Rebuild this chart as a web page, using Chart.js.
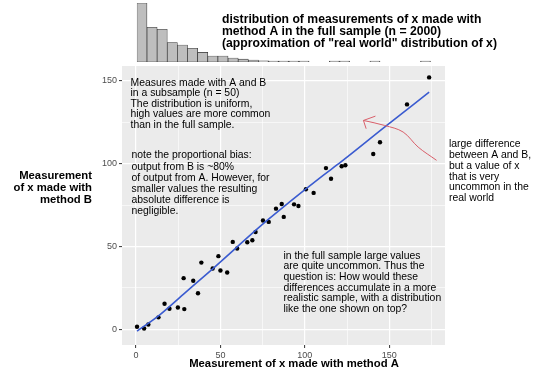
<!DOCTYPE html>
<html><head><meta charset="utf-8">
<script src="https://cdn.jsdelivr.net/npm/chart.js@4/dist/chart.umd.min.js"></script>
<style>
html,body{margin:0;padding:0;background:#fff;}
#wrap{position:relative;width:540px;height:370px;overflow:hidden;}
canvas{position:absolute;left:0;top:0;}
</style></head>
<body><div id="wrap">
<canvas id="main" width="540" height="370" style="width:540px;height:370px"></canvas>
<canvas id="hist" width="540" height="66" style="width:540px;height:66px"></canvas>
</div>
<script>
// ---- data ----
const binCenters = [3.5,9.5,15.5,21.5,27.5,33.5,39.5,45.5,51.5,57.5,63.5,69.5,75.5,81.5,87.5,93.5,99.5,105.5,111.5,117.5,123.5,129.5,135.5,141.5,147.5,153.5,159.5,165.5,171.5];
const binCounts  = [558,329,310,183,161,130,92,57,57,38,28,19,12,9,5,3,3,0,0,2,2,0,0,1,0,0,0,0,1];
const binWidth = 6;

const valuesA = [0.6,4.8,7.3,13.3,16.9,19.8,24.8,28.6,28.2,33.9,36.7,38.7,45.4,48.8,50.0,54.0,57.3,59.9,65.9,68.9,70.8,75.2,78.6,82.9,86.3,87.5,93.6,96.2,100.6,105.2,112.5,115.5,121.8,124.0,140.5,144.5,160.5,173.6];
const valuesB = [1.4,0.4,2.8,7.1,15.3,12.3,13.1,12.1,30.8,29.2,21.7,40.2,36.6,44.1,35.4,34.2,52.7,48.7,52.5,53.7,58.7,65.6,64.8,72.8,75.6,67.8,75.4,74.4,84.5,82.3,97.3,90.9,98.4,99.0,105.8,112.9,135.8,152.1];

const fitA = [0.6,13.3,28.0,45.6,77.8,109.5,121.4,147.2,173.6];
const fitB = [-1.2,8.0,21.0,36.6,65.8,91.9,101.0,122.0,143.2];

const arrowShaftA = [134.7,147.2,158.2,167.1,178.0];
const arrowShaftB = [126.1,123.1,119.1,110.0,102.0];
const arrowHeadA = [141.8,134.7,136.3];
const arrowHeadB = [128.7,126.1,121.1];

const xTicks = [0,50,100,150];
const yTicks = [0,50,100,150];
const xMinor = [25,75,125,175];
const yMinor = [25,75,125];
const xLabels = ['0','50','100','150'];
const yLabels = ['0','50','100','150'];

// ---- charts ----
const FONT = "'Liberation Sans', Arial, Helvetica, sans-serif";
Chart.defaults.font.family = FONT;
const X_MIN = -8.3, X_MAX = 183, Y_MIN = -9.6, Y_MAX = 159;

const zip = (a, b) => a.map((v, i) => ({x: v, y: b[i]}));

const panelBg = {
  id: 'panelBg',
  beforeDraw(chart) {
    const {ctx, chartArea: a} = chart;
    ctx.save();
    ctx.fillStyle = '#ebebeb';
    ctx.fillRect(a.left, a.top, a.right - a.left, a.bottom - a.top);
    ctx.restore();
  }
};

function drawLines(ctx, lines, x, y, lh, font, align) {
  ctx.font = font;
  ctx.textAlign = align;
  ctx.textBaseline = 'middle';
  ctx.fillStyle = '#000';
  lines.forEach((l, i) => ctx.fillText(l, x, y + i * lh));
}

const notes = {
  id: 'notes',
  afterDraw(chart) {
    const ctx = chart.ctx;
    ctx.save();
    const reg = "10.4px " + FONT;
    drawLines(ctx, ["Measures made with A and B", "in a subsample (n = 50)", "The distribution is uniform,", "high values are more common", "than in the full sample."], 130.5, 82.7, 10.6, reg, 'left');
    drawLines(ctx, ["note the proportional bias:", "output from B is ~80%", "of output from A. However, for", "smaller values the resulting", "absolute difference is", "negligible."], 131.5, 155.5, 11.2, reg, 'left');
    drawLines(ctx, ["in the full sample large values", "are quite uncommon. Thus the", "question is: How would these", "differences accumulate in a more", "realistic sample, with a distribution", "like the one shown on top?"], 283.5, 255.7, 10.7, reg, 'left');
    drawLines(ctx, ["large difference", "between A and B,", "but a value of x", "that is very", "uncommon in the", "real world"], 449, 144, 10.9, reg, 'left');
    const bold = "bold 11.3px " + FONT;
    drawLines(ctx, ["Measurement", "of x made with", "method B"], 92, 176, 11.7, bold, 'right');
    drawLines(ctx, ["Measurement of x made with method A"], 294, 363.5, 12, bold, 'center');
    ctx.restore();
  }
};

const isMajorX = v => xTicks.includes(v);
const isMajorY = v => yTicks.includes(v);

const mainChart = new Chart(document.getElementById('main'), {
  type: 'scatter',
  data: {
    datasets: [
      {data: zip(arrowHeadA, arrowHeadB), showLine: true, borderColor: '#d95f6a', borderWidth: 1, pointRadius: 0, order: 0},
      {data: zip(arrowShaftA, arrowShaftB), showLine: true, borderColor: '#d95f6a', borderWidth: 1, pointRadius: 0, tension: 0.35, order: 0},
      {data: zip(fitA, fitB), showLine: true, borderColor: '#3a5bd0', borderWidth: 1.6, pointRadius: 0, cubicInterpolationMode: 'monotone', order: 1},
      {data: zip(valuesA, valuesB), pointRadius: 2.2, pointBackgroundColor: '#000', pointBorderWidth: 0, order: 2}
    ]
  },
  options: {
    responsive: false,
    animation: false,
    layout: {padding: {left: 0, right: 95, top: 66, bottom: 0}},
    plugins: {legend: {display: false}, tooltip: {enabled: false}},
    scales: {
      x: {
        type: 'linear', min: X_MIN, max: X_MAX,
        afterBuildTicks: s => { s.ticks = [...xTicks, ...xMinor].sort((a,b)=>a-b).map(v => ({value: v})); },
        afterFit: s => { s.height = 25; },
        border: {display: false},
        grid: {
          color: '#ffffff',
          lineWidth: c => (c.tick && isMajorX(c.tick.value)) ? 1.2 : 0.6,
          tickColor: c => (c.tick && isMajorX(c.tick.value)) ? '#333333' : 'rgba(0,0,0,0)',
          tickLength: 3, tickWidth: 1
        },
        ticks: {
          autoSkip: false, maxRotation: 0, padding: 2, color: '#4d4d4d', font: {size: 9},
          callback: v => { const i = xTicks.indexOf(v); return i >= 0 ? xLabels[i] : ''; }
        }
      },
      y: {
        type: 'linear', min: Y_MIN, max: Y_MAX,
        afterBuildTicks: s => { s.ticks = [...yTicks, ...yMinor].sort((a,b)=>a-b).map(v => ({value: v})); },
        afterFit: s => { s.width = 122; },
        border: {display: false},
        grid: {
          color: '#ffffff',
          lineWidth: c => (c.tick && isMajorY(c.tick.value)) ? 1.2 : 0.6,
          tickColor: c => (c.tick && isMajorY(c.tick.value)) ? '#333333' : 'rgba(0,0,0,0)',
          tickLength: 3, tickWidth: 1
        },
        ticks: {
          autoSkip: false, padding: 2, color: '#4d4d4d', font: {size: 9},
          callback: v => { const i = yTicks.indexOf(v); return i >= 0 ? yLabels[i] : ''; }
        }
      }
    }
  },
  plugins: [panelBg, notes]
});

// histogram shares the main chart's x scale: its plot area spans the bin edges
const xs = mainChart.scales.x;
const histLeft = xs.getPixelForValue(binCenters[0] - binWidth / 2);
const histRight = xs.getPixelForValue(binCenters[binCenters.length - 1] + binWidth / 2);

const histNote = {
  id: 'histNote',
  afterDraw(chart) {
    const ctx = chart.ctx;
    ctx.save();
    drawLines(ctx, ["distribution of measurements of x made with", "method A in the full sample (n = 2000)", "(approximation of \"real world\" distribution of x)"], 222, 19.5, 12, "bold 12.2px " + FONT, 'left');
    ctx.restore();
  }
};

new Chart(document.getElementById('hist'), {
  type: 'bar',
  data: {
    labels: binCenters.map(String),
    datasets: [{
      data: binCounts.map(c => c || null),
      backgroundColor: '#bebebe', borderColor: '#333333', borderWidth: 0.7,
      borderSkipped: false, barPercentage: 1, categoryPercentage: 1, minBarLength: 1
    }]
  },
  options: {
    responsive: false,
    animation: false,
    layout: {padding: {left: histLeft, right: 540 - histRight, top: 3, bottom: 4}},
    plugins: {legend: {display: false}, tooltip: {enabled: false}},
    scales: {
      x: {type: 'category', display: false},
      y: {min: 0, max: 558, display: false}
    }
  },
  plugins: [histNote]
});
</script>
</body></html>
